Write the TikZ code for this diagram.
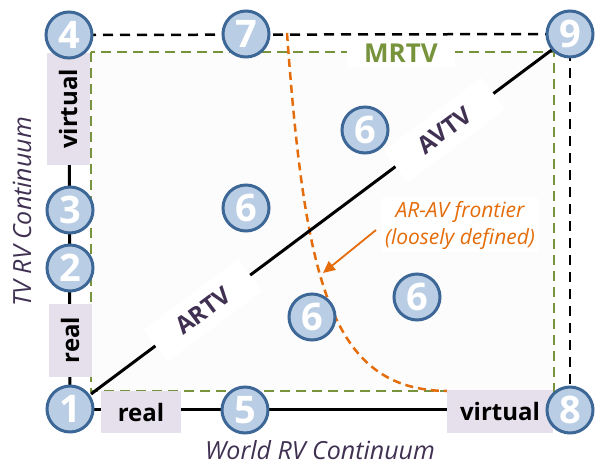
\documentclass[tikz,border=0pt]{standalone}
\usepackage{fontspec}
\setmainfont{Open Sans}
\usetikzlibrary{arrows.meta}
\definecolor{cfill}{HTML}{B9CDE5}
\definecolor{cborder}{HTML}{3D6796}
\definecolor{mrgreen}{HTML}{77933C}
\definecolor{frorange}{HTML}{E46C0A}
\definecolor{txpurple}{HTML}{403152}
\definecolor{lav}{HTML}{E6E0EC}
\definecolor{rectfill}{HTML}{FCFCFC}
\begin{document}
\begin{tikzpicture}[x=1pt,y=-1pt,
  num/.style={circle, draw=cborder, line width=3pt, fill=cfill, minimum size=46pt, inner sep=0pt, text=white, font=\bfseries\fontsize{38}{38}\selectfont},
  tagbox/.style={fill=lav, inner sep=0pt, font=\bfseries\fontsize{24}{24}\selectfont},
  difflabel/.style={fill=white, inner sep=0pt, minimum width=118pt, minimum height=40pt, text=txpurple, font=\bfseries\fontsize{24}{24}\selectfont},
  axislabel/.style={text=txpurple, inner sep=0pt, font=\itshape\fontsize{25}{25}\selectfont},
  blackdash/.style={line width=2.5pt, dash pattern=on 10pt off 7pt},
  greendash/.style={draw=mrgreen, line width=2.2pt, dash pattern=on 10pt off 6pt},
  orangedash/.style={draw=frorange, line width=2.5pt, dash pattern=on 8pt off 5pt}
]
\useasboundingbox (0,0) rectangle (598,467);
% MR region
\draw[greendash, fill=rectfill] (91,52) rectangle (554,391);
% circle positions
\coordinate (p1) at (70,409);
\coordinate (p4) at (69,35);
\coordinate (p7) at (246,34);
\coordinate (p9) at (570,34);
\coordinate (p8) at (570,410);
% frame lines
\draw[line width=3pt] (p1) -- (p4);
\draw[line width=3pt] (p1) -- (p1 -| p8);
\draw[blackdash] (p4) -- (p9);
\draw[blackdash] (p9) -- (p8);
% frontier curve
\coordinate (fA) at (287,33);
\coordinate (fB) at (447,391);
\draw[orangedash] (fA) .. controls (305,280) and (330,390) .. (fB);
% diagonal
\coordinate (dA) at (91,394);
\coordinate (dB) at (553,49);
\draw[line width=3pt] (dA) -- node[difflabel, sloped, pos=0.242] (artv) {ARTV}
  node[difflabel, sloped, pos=0.765, minimum width=122pt] (avtv) {AVTV} (dB);
% labels
\node[fill=white, inner sep=0pt, minimum width=108pt, minimum height=27pt, text=mrgreen, font=\bfseries\fontsize{26}{26}\selectfont] (mrtv) at (401,53) {MRTV};
\node[fill=white, inner sep=3pt, text=frorange, align=center, font=\itshape\fontsize{21}{27}\selectfont] (fr) at (460,225) {AR-AV frontier\\(loosely defined)};
\coordinate (frs) at (376,230);
\coordinate (frt) at (323,273);
\draw[frorange, line width=1.8pt, -{Triangle[length=12pt,width=11pt]}] (frs) -- (frt);
% tag boxes
\node[tagbox, rotate=90, minimum width=112pt, minimum height=43pt] (tv) at (68,109) {virtual};
\node[tagbox, rotate=90, minimum width=73pt, minimum height=43pt] (tr) at (70,340) {real};
\node[tagbox, minimum width=80pt, minimum height=42pt] (hr) at (141,412) {real};
\node[tagbox, minimum width=106pt, minimum height=43pt] (hv) at (500,411) {virtual};
% axis labels
\node[axislabel, rotate=90] (tvlab) at (22,212) {TV RV Continuum};
\node[axislabel] (wlab) at (320,450) {World RV Continuum};
% numbered circles
\node[num] (n1) at (p1) {1};
\node[num] (n2) at (70,268) {2};
\node[num] (n3) at (70,210) {3};
\node[num] (n4) at (p4) {4};
\node[num] (n7) at (p7) {7};
\node[num] (n9) at (p9) {9};
\node[num] (n5) at (245,410) {5};
\node[num] (n8) at (p8) {8};
\node[num] (n6a) at (246,208) {6};
\node[num] (n6b) at (365,130) {6};
\node[num] (n6c) at (417,297) {6};
\node[num] (n6d) at (312,317) {6};
\end{tikzpicture}
\end{document}
